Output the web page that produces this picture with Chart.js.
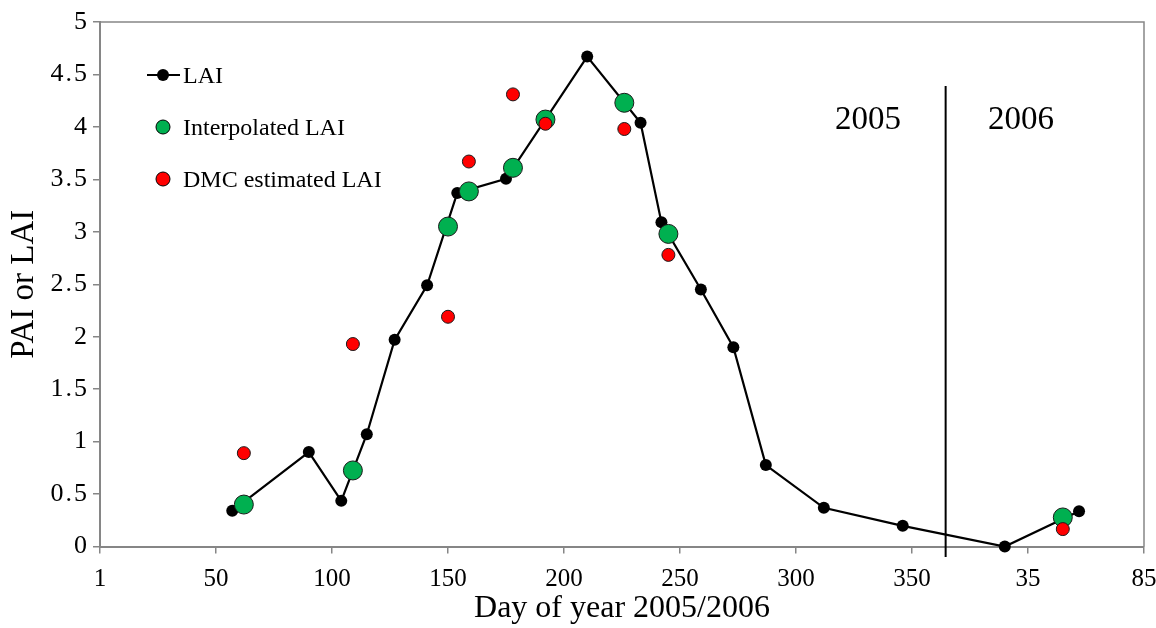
<!DOCTYPE html>
<html>
<head>
<meta charset="utf-8">
<script src="https://cdn.jsdelivr.net/npm/chart.js@4/dist/chart.umd.min.js"></script>
<style>
  html, body { margin: 0; padding: 0; background: #ffffff; }
  #wrap { width: 1156px; height: 628px; position: relative; }
</style>
</head>
<body>
<div id="wrap"><canvas id="c" width="1156" height="628"></canvas></div>
<script>
// Day axis is continuous: 2006 days are stored as day + 365
const laiDays = [57, 90, 104, 115, 127, 141, 154, 175, 210, 233, 242, 259, 273, 287, 312, 346, 390, 422];
const laiValues = [0.34, 0.90, 0.435, 1.07, 1.97, 2.49, 3.37, 3.505, 4.67, 4.04, 3.09, 2.45, 1.90, 0.776, 0.369, 0.197, 0.0, 0.337];

const interpDays = [62, 109, 150, 159, 178, 192, 226, 245, 415];
const interpValues = [0.40, 0.725, 3.05, 3.385, 3.61, 4.07, 4.23, 2.98, 0.277];

const dmcDays = [62, 109, 150, 159, 178, 192, 226, 245, 415];
const dmcValues = [0.89, 1.93, 2.19, 3.67, 4.31, 4.03, 3.98, 2.78, 0.166];

const xTickValues = [0, 50, 100, 150, 200, 250, 300, 350, 400, 450];
const xTickLabels = ['1', '50', '100', '150', '200', '250', '300', '350', '35', '85'];
const yTickValues = [0, 0.5, 1, 1.5, 2, 2.5, 3, 3.5, 4, 4.5, 5];

const yearBreakDay = 364.5;
const yearBreakRange = [-0.1, 4.39];
const yearLabels = ['2005', '2006'];
const yearLabelDays = [331, 397];
const yearLabelValue = 4.06;

const legendLabels = ['LAI', 'Interpolated LAI', 'DMC estimated LAI'];

const SERIF = '"Liberation Serif", "Times New Roman", serif';
const AXIS_GREY = '#868686';
const GREEN = '#00B050';
const RED = '#FF0000';

function pts(xs, ys) { return xs.map((x, i) => ({ x: x, y: ys[i] })); }

const spacingPatch = {
  id: 'spacingPatch',
  afterUpdate(chart) {
    const s = chart.scales.y;
    if (s && !s._lsPatched) {
      const orig = s.drawLabels.bind(s);
      s.drawLabels = function (area) {
        const c = this.ctx;
        c.save();
        c.letterSpacing = '2px';
        orig(area);
        c.restore();
      };
      s._lsPatched = true;
    }
  }
};

const overlay = {
  id: 'overlay',
  afterDatasetsDraw(chart) {
    const ctx = chart.ctx;
    const a = chart.chartArea;
    const xs = chart.scales.x, ys = chart.scales.y;
    ctx.save();
    // top and right frame
    ctx.strokeStyle = AXIS_GREY;
    ctx.lineWidth = 1.5;
    ctx.beginPath();
    ctx.moveTo(a.left, a.top);
    ctx.lineTo(a.right, a.top);
    ctx.lineTo(a.right, a.bottom);
    ctx.stroke();
    // year labels
    ctx.fillStyle = '#000';
    ctx.font = '33px ' + SERIF;
    ctx.textAlign = 'center';
    ctx.textBaseline = 'middle';
    yearLabels.forEach((t, i) => {
      ctx.fillText(t, xs.getPixelForValue(yearLabelDays[i]), ys.getPixelForValue(yearLabelValue));
    });
    // legend
    const lx = a.left + 63, ly = a.top + 53, gap = 52;
    ctx.font = '24px ' + SERIF;
    ctx.textAlign = 'left';
    ctx.textBaseline = 'middle';
    ctx.strokeStyle = '#000';
    ctx.lineWidth = 2;
    ctx.beginPath();
    ctx.moveTo(lx - 16, ly); ctx.lineTo(lx + 17, ly); ctx.stroke();
    ctx.fillStyle = '#000';
    ctx.beginPath(); ctx.arc(lx, ly, 6, 0, Math.PI * 2); ctx.fill();
    ctx.fillText(legendLabels[0], lx + 20, ly + 2);
    ctx.lineWidth = 1;
    ctx.fillStyle = GREEN;
    ctx.beginPath(); ctx.arc(lx, ly + gap, 7, 0, Math.PI * 2); ctx.fill(); ctx.stroke();
    ctx.fillStyle = '#000';
    ctx.fillText(legendLabels[1], lx + 20, ly + gap + 2);
    ctx.fillStyle = RED;
    ctx.beginPath(); ctx.arc(lx, ly + 2 * gap, 7, 0, Math.PI * 2); ctx.fill(); ctx.stroke();
    ctx.fillStyle = '#000';
    ctx.fillText(legendLabels[2], lx + 20, ly + 2 * gap + 2);
    ctx.restore();
  }
};

new Chart(document.getElementById('c'), {
  type: 'scatter',
  data: {
    datasets: [
      {
        label: 'Year break',
        data: [{ x: yearBreakDay, y: yearBreakRange[0] }, { x: yearBreakDay, y: yearBreakRange[1] }],
        showLine: true,
        borderColor: '#000',
        borderWidth: 2,
        pointRadius: 0,
        clip: false,
        order: 4
      },
      {
        label: legendLabels[0],
        data: pts(laiDays, laiValues),
        showLine: true,
        borderColor: '#000',
        borderWidth: 2.2,
        backgroundColor: '#000',
        pointRadius: 6,
        pointBorderWidth: 0,
        pointBackgroundColor: '#000',
        clip: false,
        order: 3
      },
      {
        label: legendLabels[1],
        data: pts(interpDays, interpValues),
        showLine: false,
        pointRadius: 9.5,
        pointBackgroundColor: GREEN,
        pointBorderColor: '#1a1a1a',
        pointBorderWidth: 1,
        clip: false,
        order: 2
      },
      {
        label: legendLabels[2],
        data: pts(dmcDays, dmcValues),
        showLine: false,
        pointRadius: 6.5,
        pointBackgroundColor: RED,
        pointBorderColor: '#1a1a1a',
        pointBorderWidth: 1,
        clip: false,
        order: 1
      }
    ]
  },
  options: {
    responsive: false,
    animation: false,
    devicePixelRatio: 1,
    layout: { padding: { top: 22, right: 12, left: 0, bottom: 0 } },
    plugins: {
      legend: { display: false },
      tooltip: { enabled: false }
    },
    scales: {
      x: {
        type: 'linear',
        min: 0,
        max: 450,
        afterBuildTicks(scale) { scale.ticks = xTickValues.map(v => ({ value: v })); },
        afterFit(scale) { scale.height = 81.5; scale.paddingRight = 0; scale.paddingLeft = 0; },
        ticks: {
          color: '#000',
          font: { family: SERIF, size: 25 },
          padding: 11,
          maxRotation: 0,
          autoSkip: false,
          callback(v, i) { return xTickLabels[i]; }
        },
        grid: { drawOnChartArea: false, drawTicks: true, tickLength: 7, color: AXIS_GREY, lineWidth: 1.5 },
        border: { display: true, color: AXIS_GREY, width: 2 },
        title: {
          display: true,
          text: 'Day of year 2005/2006',
          color: '#000',
          font: { family: SERIF, size: 32 },
          padding: { top: 0, bottom: 0 }
        }
      },
      y: {
        type: 'linear',
        min: 0,
        max: 5,
        afterBuildTicks(scale) { scale.ticks = yTickValues.map(v => ({ value: v })); },
        afterFit(scale) { scale.width = 100; },
        ticks: {
          color: '#000',
          font: { family: SERIF, size: 26 },
          padding: 4,
          autoSkip: false,
          callback(v) { return String(v); }
        },
        grid: { drawOnChartArea: false, drawTicks: true, tickLength: 7, color: AXIS_GREY, lineWidth: 1.5 },
        border: { display: true, color: AXIS_GREY, width: 2 },
        title: {
          display: true,
          text: 'PAI or LAI',
          color: '#000',
          font: { family: SERIF, size: 33 },
          padding: { top: 5, bottom: 0 }
        }
      }
    }
  },
  plugins: [spacingPatch, overlay]
});
</script>
</body>
</html>
